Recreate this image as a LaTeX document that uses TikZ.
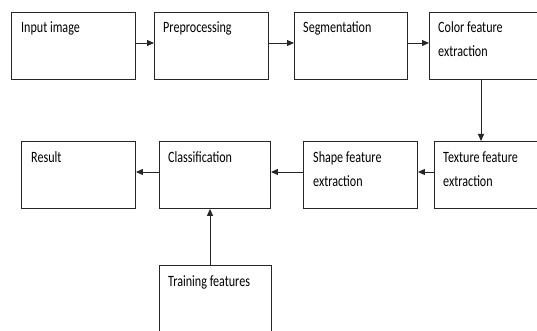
\documentclass[tikz,border=0pt]{standalone}
\usepackage{fontspec}
\newfontfamily\calib[FakeStretch=0.77]{Carlito}
\usetikzlibrary{arrows.meta}
\newcommand{\twolines}[2]{\begin{tabular}[t]{@{}l@{}}#1\\#2\end{tabular}}
\tikzset{
  box/.style={draw=black!85, line width=0.9pt, rectangle, inner sep=0pt},
  txt/.style={font=\calib\fontsize{15.7}{24}\selectfont, anchor=base west, inner sep=0pt, text=black},
  arr/.style={draw=black!85, line width=0.9pt, -{Triangle[length=7pt,width=6pt]}}
}
\begin{document}
\begin{tikzpicture}[x=1pt,y=-1pt]
\useasboundingbox (0,0) rectangle (537,331);
\clip (0,0) rectangle (537,331);
% boxes
\node[box, minimum width=124pt, minimum height=67pt, anchor=north west] (input) at (11,12) {};
\node[box, minimum width=114pt, minimum height=67pt, anchor=north west] (pre) at (154,12) {};
\node[box, minimum width=113pt, minimum height=67pt, anchor=north west] (seg) at (294,12) {};
\node[box, minimum width=115pt, minimum height=67pt, anchor=north west] (color) at (429,12) {};
\node[box, minimum width=114pt, minimum height=67pt, anchor=north west] (result) at (21,141) {};
\node[box, minimum width=111pt, minimum height=67pt, anchor=north west] (class) at (159,141) {};
\node[box, minimum width=114pt, minimum height=67pt, anchor=north west] (shape) at (303,141) {};
\node[box, minimum width=110pt, minimum height=67pt, anchor=north west] (texture) at (434,141) {};
\node[box, minimum width=112pt, minimum height=75pt, anchor=north west] (train) at (159,265) {};
% texts
\node[txt] at ([shift={(10pt,-21pt)}]input.north west) {Input image};
\node[txt] at ([shift={(9pt,-21pt)}]pre.north west) {Preprocessing};
\node[txt] at ([shift={(9pt,-21pt)}]seg.north west) {Segmentation};
\node[txt] at ([shift={(9pt,-21pt)}]color.north west) {\twolines{Color feature}{extraction}};
\node[txt] at ([shift={(10pt,-21pt)}]result.north west) {Result};
\node[txt] at ([shift={(9pt,-21pt)}]class.north west) {Classification};
\node[txt] at ([shift={(10pt,-21pt)}]shape.north west) {\twolines{Shape feature}{extraction}};
\node[txt] at ([shift={(9pt,-21pt)}]texture.north west) {\twolines{Texture feature}{extraction}};
\node[txt] at ([shift={(9pt,-21pt)}]train.north west) {Training features};
% connectors
\coordinate (r1) at (0,43);
\coordinate (r2) at (0,172);
\coordinate (cx) at (481,0);
\coordinate (tx) at (210,0);
\draw[arr] (input.east |- r1) -- (pre.west |- r1);
\draw[arr] (pre.east |- r1) -- (seg.west |- r1);
\draw[arr] (seg.east |- r1) -- (color.west |- r1);
\draw[arr] (color.south -| cx) -- (texture.north -| cx);
\draw[arr] (texture.west |- r2) -- (shape.east |- r2);
\draw[arr] (shape.west |- r2) -- (class.east |- r2);
\draw[arr] (class.west |- r2) -- (result.east |- r2);
\draw[arr] (train.north -| tx) -- (class.south -| tx);
\end{tikzpicture}
\end{document}
